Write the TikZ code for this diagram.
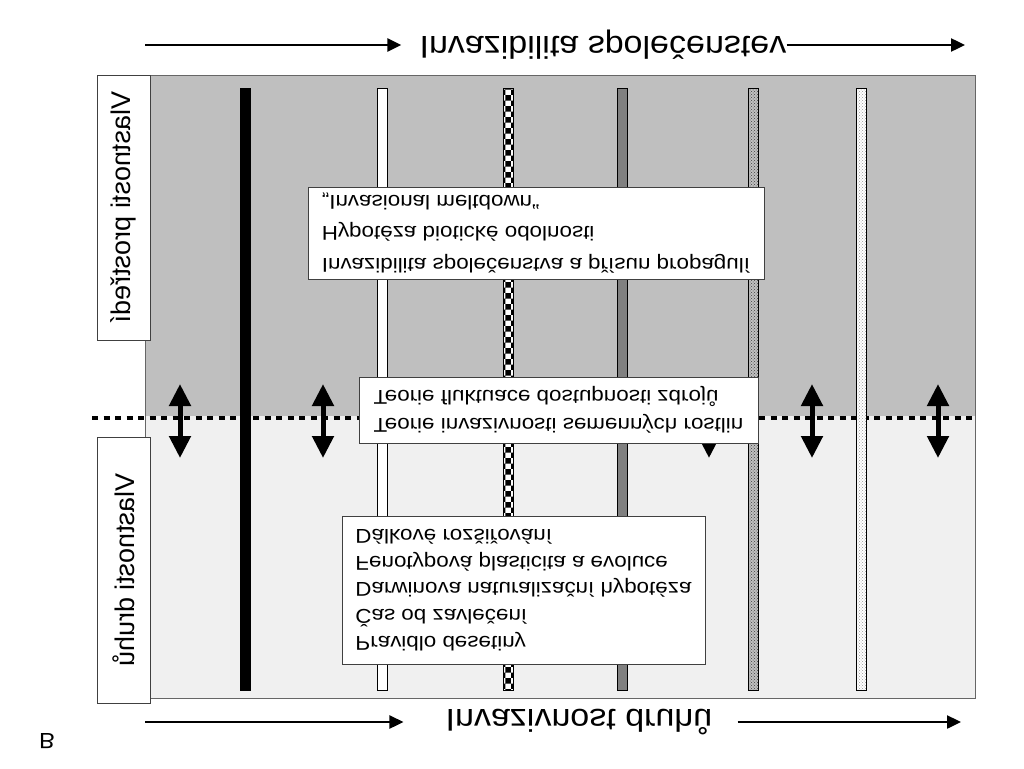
\documentclass[tikz,border=0pt]{standalone}
\usepackage{fontspec}
\setmainfont{Liberation Sans}
\newfontfamily\hdrfont[FakeStretch=1.08]{Liberation Sans}
\newfontfamily\cardfont[FakeStretch=1.12]{Liberation Sans}
\newfontfamily\sidefont[FakeStretch=1.0]{Liberation Sans}
\usetikzlibrary{arrows.meta,patterns}

\begin{document}
\begin{tikzpicture}[x=1pt,y=1pt,yscale=-1,
  every node/.append style={transform shape},
  zone/.style={draw=black!60,line width=0.6pt},
  cut/.style={line width=4.5pt,dash pattern=on 6pt off 5.5pt},
  bar/.style={draw=black,line width=0.8pt},
  card/.style={draw=black!75,fill=white,line width=0.7pt,align=left,inner sep=0pt},
  side/.style={draw=black!75,fill=white,line width=0.7pt,inner sep=0pt,
               font=\sidefont\fontsize{27}{30}\selectfont},
  hdr/.style={inner sep=0pt,font=\hdrfont\fontsize{31.5}{34}\selectfont},
  hdrarr/.style={-{Triangle[length=14pt,width=13pt]},line width=2.4pt},
  dbl/.style={{Triangle[length=22pt,width=21pt]}-{Triangle[length=22pt,width=21pt]},line width=5pt}
]
  \useasboundingbox (0,0) rectangle (1024,768);
  % the two zones
  \fill[black!25] (145,75) rectangle (975,416);
  \fill[black!6] (145,416) rectangle (975,698);
  \draw[zone] (145,75) rectangle (975,698);
  \coordinate (cutl) at (92,418);
  \coordinate (cutr) at (975,418);
  \draw[cut] (cutl) -- (cutr);
  % bars
  \draw[bar,fill=black] (240,88) rectangle (250,690);
  \draw[bar,fill=white] (377,88) rectangle (387,690);
  \draw[bar,preaction={fill=white},pattern=checkerboard] (503,88) rectangle (513,690);
  \draw[bar,fill=black!50] (617,88) rectangle (627,690);
  \draw[bar,preaction={fill=black!25},pattern=crosshatch dots,pattern color=black!75] (748,88) rectangle (758,690);
  \draw[bar,preaction={fill=white},pattern=crosshatch dots,pattern color=black!40] (856,88) rectangle (866,690);
  % double arrows across the cut
  \foreach \x/\n in {180/a,323/b,709/c,812/d,938/e}{
    \coordinate (up\n) at (\x,384);
    \coordinate (lo\n) at (\x,458);
    \draw[dbl] (up\n) -- (lo\n);
  }
  % side labels
  \node[side,minimum width=265,minimum height=53,rotate=90] (env) at (123.5,207.5) {Vlastnosti prostředí};
  \node[side,minimum width=266,minimum height=53,rotate=90] (spec) at (123.5,570) {Vlastnosti druhů};
  % headers
  \node[hdr] (comm) at (603,45) {Invazibilita společenstev};
  \coordinate (commL) at (145,45);
  \coordinate (commR) at (965,45);
  \draw[hdrarr] (commL) -- ([xshift=-18pt]comm.west);
  \draw[hdrarr] (comm.east) -- (commR);
  \node[hdr] (spread) at (579,722) {Invazivnost druhů};
  \coordinate (sprL) at (145,722);
  \coordinate (sprR) at (961,722);
  \draw[hdrarr] (sprL) -- ([xshift=-42pt]spread.west);
  \draw[hdrarr] ([xshift=25pt]spread.east) -- (sprR);
  % hypothesis cards
  \node[card,minimum width=456,minimum height=92,font=\cardfont\fontsize{20}{31.7}\selectfont] (biotic) at (536,233)
    {Invazibilita společenstva a přísun propagulí\\Hypotéza biotické odolnosti\\„Invasional meltdown“};
  \node[card,minimum width=399,minimum height=66,font=\cardfont\fontsize{20}{28}\selectfont] (flux) at (558.5,410)
    {Teorie invazivnosti semenných rostlin\\Teorie fluktuace dostupnosti zdrojů};
  \node[card,minimum width=363,minimum height=148,font=\cardfont\fontsize{20}{26.7}\selectfont] (traits) at (523.5,590)
    {Pravidlo desetiny\\Čas od zavlečení\\Darwinova naturalizační hypotéza\\Fenotypová plasticita a evoluce\\Dálkové rozšiřování};
  \node[font=\hdrfont\fontsize{22}{26}\selectfont] (panel) at (47,741) {B};
\end{tikzpicture}
\end{document}
